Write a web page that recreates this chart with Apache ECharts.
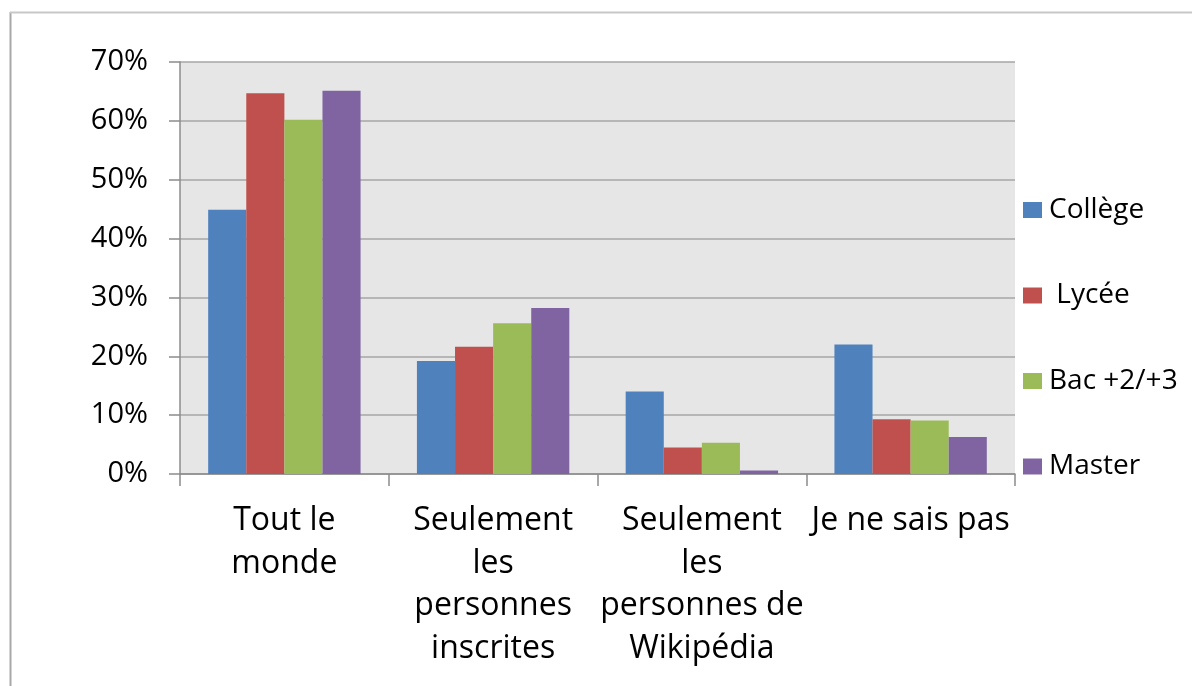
<!DOCTYPE html>
<html>
<head>
<meta charset="utf-8">
<script src="https://cdn.jsdelivr.net/npm/echarts@6/dist/echarts.min.js"></script>
<style>
html,body{margin:0;padding:0;background:#fff;}
#chart{width:1192px;height:686px;}
</style>
</head>
<body>
<div id="chart"></div>
<script>
var categories = ["Tout le\nmonde", "Seulement\nles\npersonnes\ninscrites", "Seulement\nles\npersonnes de\nWikipédia", "Je ne sais pas"];
var seriesNames = ["Collège", " Lycée", "Bac +2/+3", "Master"];
var college = [44.9, 19.2, 14.0, 22.0];
var lycee = [64.7, 21.6, 4.5, 9.3];
var bac = [60.2, 25.6, 5.3, 9.1];
var master = [65.1, 28.2, 0.6, 6.3];
var yTicks = [0, 10, 20, 30, 40, 50, 60, 70];
var colors = ["#4F81BD", "#C0504D", "#9BBB59", "#8064A2"];

var FONT = "Open Sans";
var chart = echarts.init(document.getElementById('chart'));
var values = [college, lycee, bac, master];
chart.setOption({
  animation: false,
  backgroundColor: '#ffffff',
  textStyle: {fontFamily: FONT},
  graphic: [
    {type: 'line', shape: {x1: 10.5, y1: 12, x2: 10.5, y2: 686}, style: {stroke: '#A8A8A8', lineWidth: 2}},
    {type: 'line', shape: {x1: 10, y1: 12.5, x2: 1192, y2: 12.5}, style: {stroke: '#C8C8C8', lineWidth: 2}}
  ],
  grid: {left: 180, right: 177, top: 62, bottom: 212, show: true, backgroundColor: '#E6E6E6', borderWidth: 0},
  legend: {
    orient: 'vertical', left: 1018, top: 191,
    itemWidth: 19, itemHeight: 16, itemGap: 57.5,
    icon: 'rect',
    textStyle: {fontFamily: FONT, fontSize: 28, color: '#000', padding: [0, 0, 0, 2]},
    data: seriesNames
  },
  xAxis: {
    type: 'category', data: categories,
    axisLine: {lineStyle: {color: '#8C8C8C', width: 1.5}},
    axisTick: {show: true, length: 12, lineStyle: {color: '#8C8C8C', width: 1.5}},
    axisLabel: {interval: 0, fontFamily: FONT, fontSize: 32, lineHeight: 42.5, color: '#000', margin: 26, align: 'center'}
  },
  yAxis: {
    type: 'value', min: yTicks[0], max: yTicks[yTicks.length - 1], interval: 10,
    axisLine: {show: true, lineStyle: {color: '#8C8C8C', width: 1.5}},
    axisTick: {show: true, length: 11, lineStyle: {color: '#8C8C8C', width: 1.5}},
    splitLine: {lineStyle: {color: '#A6A6A6', width: 1.5}},
    axisLabel: {formatter: '{value}%', fontFamily: FONT, fontSize: 29, color: '#000', margin: 32}
  },
  series: seriesNames.map(function (n, i) {
    return {
      name: n, type: 'bar', data: values[i],
      barGap: '0%', barCategoryGap: '27%',
      itemStyle: {color: colors[i]}
    };
  })
});
</script>
</body>
</html>
